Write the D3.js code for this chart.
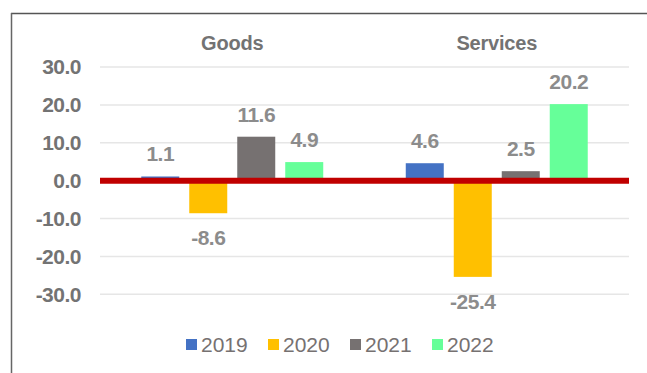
<!DOCTYPE html>
<html>
<head>
<meta charset="utf-8">
<script src="https://cdn.jsdelivr.net/npm/d3@7"></script>
<style>
  body { margin: 0; background: #fff; }
  text { font-family: "Liberation Sans", Arial, sans-serif; }
</style>
</head>
<body>
<script>
"use strict";
// chart data
var categories = ["Goods", "Services"];
var years = ["2019", "2020", "2021", "2022"];
var goodsValues = [1.1, -8.6, 11.6, 4.9];
var servicesValues = [4.6, -25.4, 2.5, 20.2];
var yTicks = [30, 20, 10, 0, -10, -20, -30];
var yearColors = ["#4472C4", "#FFC000", "#767171", "#66FF99"];

(function () {
  var width = 647, height = 373;
  var plot = {left: 100, right: 629, top: 67, bottom: 294.3};

  // one decimal, plain hyphen for negatives like the original
  var fmt = d3.formatLocale({decimal: ".", thousands: ",", grouping: [3],
    currency: ["", ""], minus: "-"}).format(".1f");

  var svg = d3.select("body").append("svg")
    .attr("width", width)
    .attr("height", height);

  // frame of the chart box
  svg.append("line")
    .attr("x1", 11).attr("x2", width).attr("y1", 13.5).attr("y2", 13.5)
    .attr("stroke", "#555").attr("stroke-width", 1.5);
  svg.append("line")
    .attr("x1", 11.5).attr("x2", 11.5).attr("y1", 13).attr("y2", height)
    .attr("stroke", "#666").attr("stroke-width", 1.5);

  var y = d3.scaleLinear().domain([-30, 30]).range([plot.bottom, plot.top]);
  var x0 = d3.scaleBand().domain(categories)
    .range([plot.left, plot.right])
    .paddingInner(0.312).paddingOuter(0.156);
  var x1 = d3.scaleBand().domain(years)
    .range([0, x0.bandwidth()])
    .paddingInner(10 / 48);
  var color = d3.scaleOrdinal().domain(years).range(yearColors);

  // gridlines
  svg.append("g").selectAll("line")
    .data(yTicks.filter(function (t) { return t !== 0; }))
    .join("line")
    .attr("x1", plot.left).attr("x2", plot.right)
    .attr("y1", function (d) { return y(d); })
    .attr("y2", function (d) { return y(d); })
    .attr("stroke", "#e6e6e6").attr("stroke-width", 1.5);

  // y axis labels
  var yAxis = svg.append("g")
    .attr("transform", "translate(" + 81 + ",0)")
    .call(d3.axisLeft(y).tickValues(yTicks).tickSize(0).tickPadding(0)
      .tickFormat(fmt));
  yAxis.select(".domain").remove();
  yAxis.selectAll("text")
    .attr("x", 0)
    .attr("font-size", "21px")
    .attr("font-weight", "bold")
    .attr("letter-spacing", "-0.5px")
    .attr("fill", "#737373")
    .attr("font-family", "Liberation Sans, Arial, sans-serif");

  // category labels
  svg.append("g").selectAll("text")
    .data(categories)
    .join("text")
    .attr("x", function (d) { return x0(d) + x0.bandwidth() / 2; })
    .attr("y", 50)
    .attr("text-anchor", "middle")
    .attr("font-size", "20px")
    .attr("font-weight", "bold")
    .attr("letter-spacing", "-0.2px")
    .attr("fill", "#737373")
    .text(function (d) { return d; });

  var rows = [
    {cat: "Goods", values: goodsValues},
    {cat: "Services", values: servicesValues}
  ];

  var groups = svg.append("g").selectAll("g")
    .data(rows)
    .join("g")
    .attr("transform", function (d) { return "translate(" + x0(d.cat) + ",0)"; });

  var bars = groups.selectAll("g")
    .data(function (d) {
      return d.values.map(function (v, i) { return {year: years[i], value: v}; });
    })
    .join("g");

  bars.append("rect")
    .attr("x", function (d) { return x1(d.year); })
    .attr("width", x1.bandwidth())
    .attr("y", function (d) { return y(Math.max(0, d.value)); })
    .attr("height", function (d) { return Math.abs(y(d.value) - y(0)); })
    .attr("fill", function (d) { return color(d.year); });

  bars.append("text")
    .attr("x", function (d) { return x1(d.year) + x1.bandwidth() / 2; })
    .attr("y", function (d) {
      return d.value >= 0 ? y(d.value) - 15 : y(d.value) + 32;
    })
    .attr("text-anchor", "middle")
    .attr("font-size", "21px")
    .attr("font-weight", "bold")
    .attr("letter-spacing", "-0.5px")
    .attr("fill", "#8c8c8c")
    .text(function (d) { return fmt(d.value); });

  // zero line
  svg.append("line")
    .attr("x1", plot.left).attr("x2", plot.right)
    .attr("y1", y(0)).attr("y2", y(0))
    .attr("stroke", "#C00000").attr("stroke-width", 6);

  // legend
  var legend = svg.append("g").selectAll("g")
    .data(years)
    .join("g")
    .attr("transform", function (d, i) { return "translate(" + (186 + i * 82) + ",339)"; });
  legend.append("rect")
    .attr("width", 11).attr("height", 11)
    .attr("fill", function (d) { return color(d); });
  legend.append("text")
    .attr("x", 15).attr("y", 12.5)
    .attr("font-size", "21px")
    .attr("fill", "#767171")
    .text(function (d) { return d; });
})();
</script>
</body>
</html>
